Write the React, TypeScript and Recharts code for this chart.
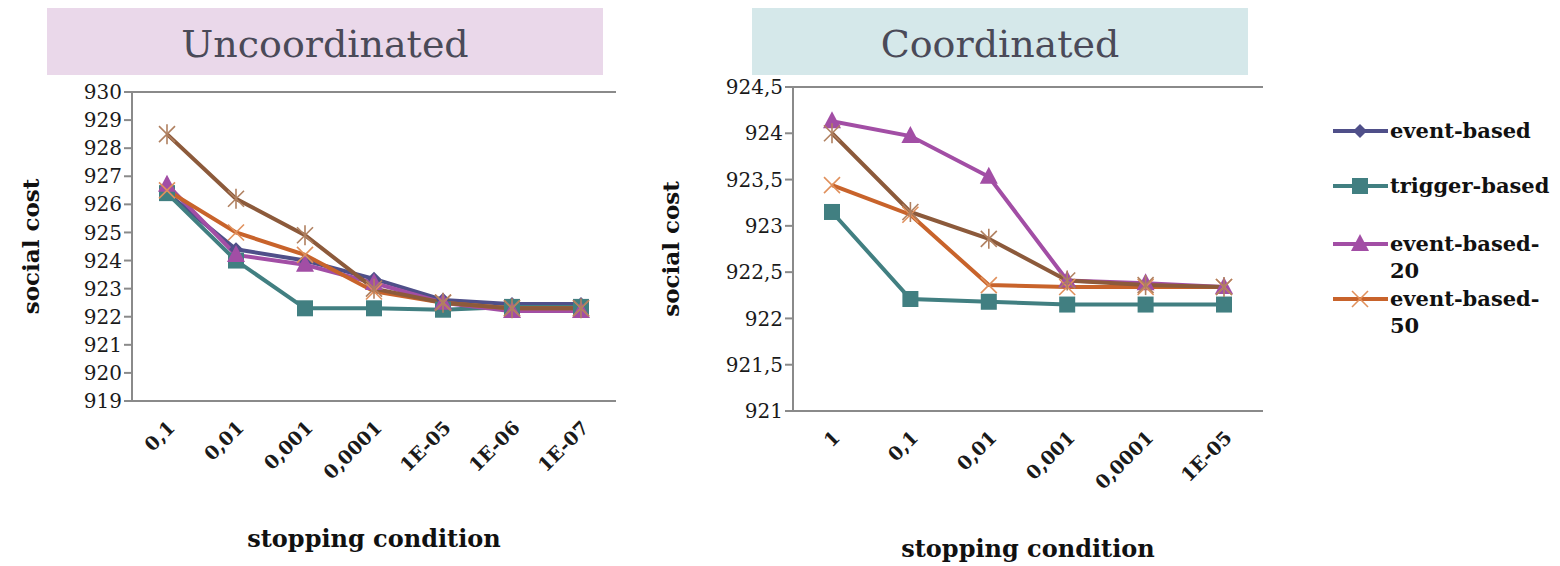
import React from 'react';
import { LineChart, Line, XAxis, YAxis, CartesianGrid } from 'recharts';

// Uncoordinated panel
const uncoordCategories = ['0,1', '0,01', '0,001', '0,0001', '1E-05', '1E-06', '1E-07'];
const uncoordEventBased = [926.4, 924.4, 924.0, 923.35, 922.6, 922.45, 922.45];
const uncoordTriggerBased = [926.4, 924.0, 922.3, 922.3, 922.25, 922.35, 922.35];
const uncoordEventBased20 = [926.7, 924.2, 923.85, 923.2, 922.5, 922.2, 922.2];
const uncoordEventBased50 = [926.5, 925.0, 924.2, 922.9, 922.5, 922.3, 922.3];
const uncoordEventBased100 = [928.5, 926.2, 924.9, 923.0, 922.5, 922.3, 922.3];
const uncoordTicks = [919, 920, 921, 922, 923, 924, 925, 926, 927, 928, 929, 930];

// Coordinated panel (event-based is not visible here)
const coordCategories = ['1', '0,1', '0,01', '0,001', '0,0001', '1E-05'];
const coordTriggerBased = [923.15, 922.21, 922.18, 922.15, 922.15, 922.15];
const coordEventBased20 = [924.13, 923.97, 923.53, 922.41, 922.38, 922.34];
const coordEventBased50 = [923.44, 923.12, 922.36, 922.34, 922.34, 922.34];
const coordEventBased100 = [924.0, 923.15, 922.86, 922.41, 922.36, 922.34];
const coordTicks = [921, 921.5, 922, 922.5, 923, 923.5, 924, 924.5];

const FONT = '"DejaVu Serif", serif';

type Shape = 'diamond' | 'square' | 'triangle' | 'x' | 'star';

const series: { key: string; name: string; color: string; accent: string; shape: Shape; legend: boolean }[] = [
  { key: 'eb', name: 'event-based', color: '#4f4f89', accent: '#4f4f89', shape: 'diamond', legend: true },
  { key: 'tb', name: 'trigger-based', color: '#417f81', accent: '#417f81', shape: 'square', legend: true },
  { key: 'eb20', name: 'event-based-20', color: '#a24ea5', accent: '#a24ea5', shape: 'triangle', legend: true },
  { key: 'eb50', name: 'event-based-50', color: '#c8632b', accent: '#e0905c', shape: 'x', legend: true },
  { key: 'eb100', name: 'event-based-100', color: '#8c5a3b', accent: '#b08060', shape: 'star', legend: false },
];

const uncoordData = uncoordCategories.map((cat, i) => ({
  cat,
  eb: uncoordEventBased[i],
  tb: uncoordTriggerBased[i],
  eb20: uncoordEventBased20[i],
  eb50: uncoordEventBased50[i],
  eb100: uncoordEventBased100[i],
}));

const coordData = coordCategories.map((cat, i) => ({
  cat,
  tb: coordTriggerBased[i],
  eb20: coordEventBased20[i],
  eb50: coordEventBased50[i],
  eb100: coordEventBased100[i],
}));

const Marker = ({ cx, cy, shape, color, accent }: { cx: number; cy: number; shape: Shape; color: string; accent: string }) => {
  if (shape === 'diamond') {
    return <polygon points={`${cx},${cy - 7} ${cx + 7},${cy} ${cx},${cy + 7} ${cx - 7},${cy}`} fill={color} />;
  }
  if (shape === 'square') {
    return <rect x={cx - 8} y={cy - 8} width={16} height={16} fill={color} />;
  }
  if (shape === 'triangle') {
    return <polygon points={`${cx},${cy - 10} ${cx + 9},${cy + 7} ${cx - 9},${cy + 7}`} fill={color} />;
  }
  if (shape === 'x') {
    return (
      <g stroke={accent} strokeWidth={1.6}>
        <line x1={cx - 8} y1={cy - 8} x2={cx + 8} y2={cy + 8} />
        <line x1={cx - 8} y1={cy + 8} x2={cx + 8} y2={cy - 8} />
      </g>
    );
  }
  return (
    <g stroke={accent} strokeWidth={1.6}>
      <line x1={cx - 8} y1={cy - 8} x2={cx + 8} y2={cy + 8} />
      <line x1={cx - 8} y1={cy + 8} x2={cx + 8} y2={cy - 8} />
      <line x1={cx} y1={cy - 10} x2={cx} y2={cy + 10} />
    </g>
  );
};

const makeDot = (s: (typeof series)[number]) => (props: any) => {
  const { cx, cy, index } = props;
  if (cx == null || cy == null) return <g key={`${s.key}-${index}`} />;
  return (
    <g key={`${s.key}-${index}`}>
      <Marker cx={cx} cy={cy} shape={s.shape} color={s.color} accent={s.accent} />
    </g>
  );
};

const AngledTick = (props: any) => {
  const { x, y, payload } = props;
  const ax = x + 9;
  const ay = y + 20;
  return (
    <text
      x={ax}
      y={ay}
      transform={`rotate(-45 ${ax} ${ay})`}
      textAnchor="end"
      fontFamily={FONT}
      fontSize={19}
      fontWeight="bold"
      fill="#1a1a1a"
    >
      {payload.value}
    </text>
  );
};

const yTitle = (props: any) => {
  const vb = props.viewBox;
  const x = vb.x + 30;
  const y = vb.y + vb.height / 2;
  return (
    <text
      x={x}
      y={y}
      transform={`rotate(-90 ${x} ${y})`}
      textAnchor="middle"
      dominantBaseline="central"
      fontFamily={FONT}
      fontSize={23}
      fontWeight="bold"
      fill="#111"
    >
      social cost
    </text>
  );
};

const xTitle = (fromBottom: number) => (props: any) => {
  const vb = props.viewBox;
  return (
    <text
      x={vb.x + vb.width / 2}
      y={vb.y + vb.height - fromBottom}
      textAnchor="middle"
      fontFamily={FONT}
      fontSize={24}
      fontWeight="bold"
      fill="#111"
    >
      stopping condition
    </text>
  );
};

const fmt = (v: number) => String(v).replace('.', ',');

const Panel = ({
  data,
  keys,
  ticks,
  width,
  height,
  margin,
  yWidth,
  xHeight,
  xPad,
  xTitleBottom,
}: {
  data: any[];
  keys: string[];
  ticks: number[];
  width: number;
  height: number;
  margin: { top: number; right: number; left: number; bottom: number };
  yWidth: number;
  xHeight: number;
  xPad: number;
  xTitleBottom: number;
}) => (
  <LineChart width={width} height={height} data={data} margin={margin}>
    <CartesianGrid horizontal vertical={false} stroke="#8a8a8a" strokeWidth={2} />
    <XAxis
      dataKey="cat"
      xAxisId="bottom"
      height={xHeight}
      interval={0}
      padding={{ left: xPad, right: xPad }}
      tickLine={false}
      axisLine={{ stroke: '#8a8a8a', strokeWidth: 2 }}
      tick={<AngledTick />}
      label={{ content: xTitle(xTitleBottom) }}
    />
    <XAxis dataKey="cat" xAxisId="top" orientation="top" height={0} tick={false} tickLine={false} axisLine={{ stroke: '#333', strokeWidth: 1.5 }} />
    <YAxis
      yAxisId="left"
      width={yWidth}
      domain={[ticks[0], ticks[ticks.length - 1]]}
      ticks={ticks}
      interval={0}
      tickFormatter={fmt}
      tickSize={8}
      tickLine={{ stroke: '#8a8a8a', strokeWidth: 2 }}
      axisLine={{ stroke: '#8a8a8a', strokeWidth: 2 }}
      tick={{ fontFamily: FONT, fontSize: 20, fill: '#1a1a1a' }}
      label={{ content: yTitle }}
    />
    <YAxis yAxisId="right" orientation="right" width={0} domain={[0, 1]} tick={false} tickLine={false} axisLine={{ stroke: '#333', strokeWidth: 1.5 }} />
    {series
      .filter((s) => keys.includes(s.key))
      .map((s) => (
        <Line
          key={s.key}
          xAxisId="bottom"
          yAxisId="left"
          dataKey={s.key}
          name={s.name}
          stroke={s.color}
          strokeWidth={4}
          dot={makeDot(s)}
          activeDot={false}
          isAnimationActive={false}
        />
      ))}
  </LineChart>
);

const LegendBlock = () => {
  const rows = series.filter((s) => s.legend);
  const rowY = [31, 86, 144, 199];
  return (
    <svg width={230} height={250} style={{ position: 'absolute', left: 1330, top: 100 }}>
      {rows.map((s, i) => {
        const cy = rowY[i];
        const cut = s.name.length > 13 ? s.name.lastIndexOf('-') + 1 : s.name.length;
        const first = s.name.slice(0, cut);
        const rest = s.name.slice(cut);
        return (
          <g key={s.key}>
            <line x1={3} y1={cy} x2={58} y2={cy} stroke={s.color} strokeWidth={4} />
            <Marker cx={30} cy={cy} shape={s.shape} color={s.color} accent={s.accent} />
            <text x={60} y={cy + 7} fontFamily={FONT} fontSize={21} fontWeight="bold" fill="#111">
              {first}
              {rest && (
                <tspan x={60} dy={27}>
                  {rest}
                </tspan>
              )}
            </text>
          </g>
        );
      })}
    </svg>
  );
};

const titleStyle = (left: number, width: number, bg: string): React.CSSProperties => ({
  position: 'absolute',
  left,
  top: 8,
  width,
  height: 67,
  background: bg,
  color: '#4a4a58',
  fontFamily: FONT,
  fontSize: 38,
  lineHeight: '72px',
  textAlign: 'center',
});

export default function App() {
  return (
    <div style={{ position: 'absolute', left: 0, top: 0, width: 1560, height: 566, background: '#fff', overflow: 'hidden' }}>
      <div style={titleStyle(47, 556, '#ead8ea')}>Uncoordinated</div>
      <div style={titleStyle(752, 496, '#d5e8ea')}>Coordinated</div>
      <div style={{ position: 'absolute', left: 0, top: 0 }}>
        <Panel
          data={uncoordData}
          keys={['eb', 'tb', 'eb20', 'eb50', 'eb100']}
          ticks={uncoordTicks}
          width={640}
          height={566}
          margin={{ top: 92, right: 24, left: 0, bottom: 0 }}
          yWidth={132}
          xHeight={165}
          xPad={35}
          xTitleBottom={19}
        />
      </div>
      <div style={{ position: 'absolute', left: 640, top: 0 }}>
        <Panel
          data={coordData}
          keys={['tb', 'eb20', 'eb50', 'eb100']}
          ticks={coordTicks}
          width={920}
          height={566}
          margin={{ top: 87, right: 297, left: 0, bottom: 0 }}
          yWidth={153}
          xHeight={155}
          xPad={39}
          xTitleBottom={9}
        />
      </div>
      <LegendBlock />
    </div>
  );
}
